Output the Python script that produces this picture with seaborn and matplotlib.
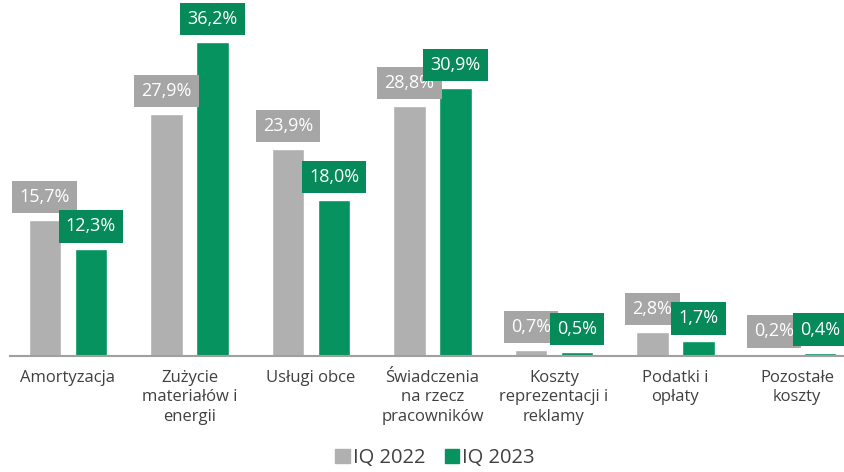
import matplotlib
matplotlib.use('Agg')
import matplotlib.pyplot as plt
import seaborn as sns
import pandas as pd

# ========================
# DATA
# ========================
categories = [
    "Amortyzacja",
    "Zużycie\nmateriałów i\nenergii",
    "Usługi obce",
    "Świadczenia\nna rzecz\npracowników",
    "Koszty\nreprezentacji i\nreklamy",
    "Podatki i\nopłaty",
    "Pozostałe\nkoszty",
]
series_names = ["IQ 2022", "IQ 2023"]
values_2022 = [15.7, 27.9, 23.9, 28.8, 0.7, 2.8, 0.2]
values_2023 = [12.3, 36.2, 18.0, 30.9, 0.5, 1.7, 0.4]

BAR_COLORS = ["#b0b0b0", "#06935f"]
BOX_COLORS = ["#a6a6a6", "#068a59"]
TEXT_COLOR = "#404040"
FONT = ["Open Sans", "DejaVu Sans"]

df = pd.DataFrame({
    "category": categories * 2,
    "series": [series_names[0]] * len(categories) + [series_names[1]] * len(categories),
    "value": values_2022 + values_2023,
})

sns.set_style("white")
plt.rcParams['font.family'] = FONT

fig = plt.figure(figsize=(8.45, 4.72), dpi=100)
ax = fig.add_axes([0.0118, 0.2458, 0.9882, 0.75])

sns.barplot(data=df, x="category", y="value", hue="series",
            palette=BAR_COLORS, width=0.76, gap=0.3, ax=ax,
            legend=False, saturation=1)

ax.set_ylim(0, 40.8)
ax.set_xlim(-0.477, 6.395)

# value labels in coloured boxes
for i, cont in enumerate(ax.containers):
    vals = values_2022 if i == 0 else values_2023
    labels = [f"{v:.1f}%".replace(".", ",") for v in vals]
    ax.bar_label(cont, labels=labels, padding=10, color="white",
                 fontsize=13, zorder=5 + i,
                 bbox=dict(boxstyle="square,pad=0.4", fc=BOX_COLORS[i], ec="none"))

# axes styling
for side in ["left", "right", "top"]:
    ax.spines[side].set_visible(False)
ax.spines["bottom"].set_color("#a0a0a0")
ax.spines["bottom"].set_linewidth(1.5)
ax.set_yticks([])
ax.set_xlabel("")
ax.set_ylabel("")
ax.tick_params(axis="x", length=0, pad=10, labelsize=12, labelcolor=TEXT_COLOR)
for lbl in ax.get_xticklabels():
    lbl.set_linespacing(1.3)
    lbl.set_verticalalignment("top")

# legend
handles = [plt.Rectangle((0, 0), 1, 1, color=c) for c in BAR_COLORS]
fig.legend(handles, series_names, loc="lower center", bbox_to_anchor=(0.515, -0.03),
           ncol=2, frameon=False, fontsize=14.5, labelcolor=TEXT_COLOR,
           handlelength=0.7, handleheight=0.7, handletextpad=0.15, columnspacing=1.0)

plt.savefig("out.png", dpi=100)
plt.close()
